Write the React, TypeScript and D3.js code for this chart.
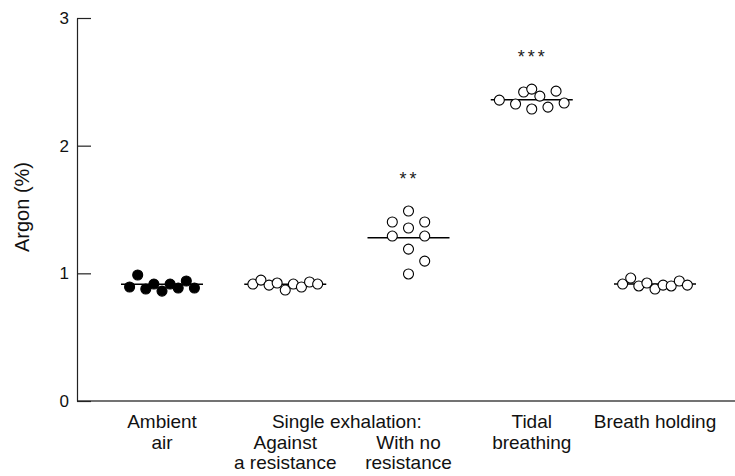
import React, { useEffect, useRef } from 'react';
import * as d3 from 'd3';

// groups along the x axis
const groups = ['ambient', 'against', 'noResistance', 'tidal', 'holding'];

// argon (%) per subject
const ambientAir = [0.987, 0.893, 0.877, 0.916, 0.861, 0.916, 0.885, 0.94, 0.885];
const againstResistance = [0.916, 0.947, 0.908, 0.924, 0.869, 0.916, 0.893, 0.932, 0.916];
const noResistance = [1.488, 1.402, 1.355, 1.402, 1.292, 1.292, 1.19, 1.096, 0.995];
const tidalBreathing = [2.357, 2.326, 2.42, 2.443, 2.388, 2.287, 2.302, 2.427, 2.334];
const breathHolding = [0.916, 0.963, 0.901, 0.924, 0.877, 0.908, 0.901, 0.94, 0.908];

// horizontal slot of each dot (scatter so circles don't overlap)
const ambientSlots = [-3, -4, -2, -1, 0, 1, 2, 3, 4];
const againstSlots = [-4, -3, -2, -1, 0, 1, 2, 3, 4];
const noResSlots = [0, -2, 0, 2, -2, 2, 0, 2, 0];
const tidalSlots = [-4, -2, -1, 0, 1, 0, 2, 3, 4];
const holdingSlots = [-4, -3, -2, -1, 0, 1, 2, 3, 4];

const medians = [0.914, 0.914, 1.279, 2.36, 0.916];
const stars = ['', '', '**', '***', ''];
const filled = [true, false, false, false, false];

const yTicks = [0, 1, 2, 3];

// x labels: [text, row]
const labelRows: [string, number][][] = [
  [['Ambient', 0], ['air', 1]],
  [['Against', 1], ['a resistance', 2]],
  [['With no', 1], ['resistance', 2]],
  [['Tidal', 0], ['breathing', 1]],
  [['Breath holding', 0]],
];
const headerLabel = 'Single exhalation:';
const yTitle = 'Argon (%)';

const allValues = [ambientAir, againstResistance, noResistance, tidalBreathing, breathHolding];
const allSlots = [ambientSlots, againstSlots, noResSlots, tidalSlots, holdingSlots];

export default function App() {
  const ref = useRef<SVGSVGElement>(null);

  useEffect(() => {
    const svg = d3.select(ref.current);
    svg.selectAll('*').remove();

    const width = 735;
    const left = 77, top = 18, bottom = 401;
    const font = 'Liberation Sans, Arial, Helvetica, sans-serif';

    const y = d3.scaleLinear().domain([0, 3]).range([bottom, top]);
    const x = d3.scalePoint<string>().domain(groups).range([162, 655]);
    const slotW = 8.1;

    // x axis line
    svg.append('line')
      .attr('x1', left).attr('x2', width)
      .attr('y1', y(0)).attr('y2', y(0))
      .attr('stroke', '#444').attr('stroke-width', 1.5);

    const yAxis = d3.axisLeft(y)
      .tickValues(yTicks)
      .tickFormat(d3.format('d'))
      .tickSizeInner(-14)
      .tickSizeOuter(0)
      .tickPadding(8);

    const yg = svg.append('g')
      .attr('transform', `translate(${left},0)`)
      .call(yAxis);
    yg.select('.domain').attr('stroke', '#222').attr('stroke-width', 1.2);
    yg.selectAll('.tick line').attr('stroke', '#222').attr('stroke-width', 1.2);
    yg.selectAll('.tick text')
      .attr('font-family', font).attr('font-size', 17).attr('fill', '#111');

    svg.append('text')
      .attr('transform', 'translate(29,207) rotate(-90)')
      .attr('text-anchor', 'middle')
      .attr('font-family', font).attr('font-size', 20)
      .attr('fill', '#111')
      .text(yTitle);

    groups.forEach((g, gi) => {
      const cx = x(g) as number;
      const gr = svg.append('g');

      gr.append('line')
        .attr('x1', cx - 41).attr('x2', cx + 41)
        .attr('y1', y(medians[gi])).attr('y2', y(medians[gi]))
        .attr('stroke', '#000').attr('stroke-width', 1.6);

      gr.selectAll('circle')
        .data(allValues[gi])
        .enter()
        .append('circle')
        .attr('cx', (d, i) => cx + allSlots[gi][i] * slotW)
        .attr('cy', d => y(d))
        .attr('r', 5)
        .attr('fill', filled[gi] ? '#000' : '#fff')
        .attr('stroke', '#000')
        .attr('stroke-width', 1.1);

      if (stars[gi]) {
        const maxV = d3.max(allValues[gi]) as number;
        gr.append('text')
          .attr('x', cx + 1).attr('y', y(maxV) - 26)
          .attr('text-anchor', 'middle')
          .attr('font-family', font).attr('font-size', 18)
          .attr('letter-spacing', 3)
          .attr('fill', '#222')
          .text(stars[gi]);
      }

      labelRows[gi].forEach(([t, row]) => {
        svg.append('text')
          .attr('x', cx).attr('y', 428 + row * 20.5)
          .attr('text-anchor', 'middle')
          .attr('font-family', font).attr('font-size', 19)
          .attr('fill', '#111')
          .text(t);
      });
    });

    svg.append('text')
      .attr('x', ((x('against') as number) + (x('noResistance') as number)) / 2)
      .attr('y', 428)
      .attr('text-anchor', 'middle')
      .attr('font-family', font).attr('font-size', 19)
      .attr('fill', '#111')
      .text(headerLabel);
  }, []);

  return (
    <svg ref={ref} width={735} height={476}
      style={{ position: 'absolute', left: 0, top: 0, background: '#fff' }} />
  );
}
